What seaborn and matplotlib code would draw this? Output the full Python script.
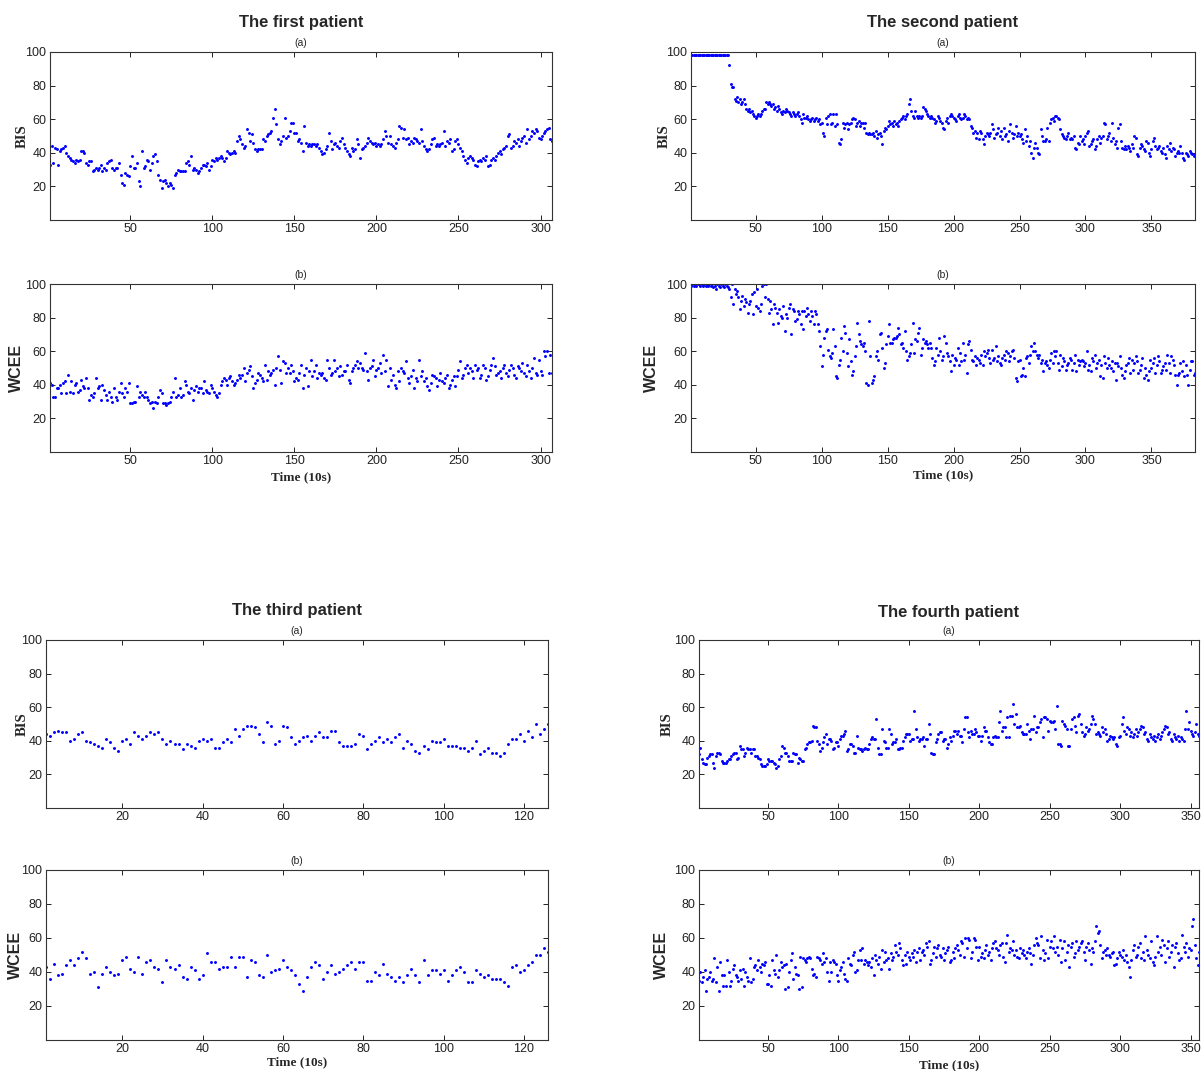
import numpy as np
import pandas as pd
import matplotlib
matplotlib.use("Agg")
import matplotlib.pyplot as plt
import seaborn as sns

# ---- data (one value per 10 s step) ----
p1_bis = [
    33, 44, 34, 43, 42, 33, 41, 42, 43, 44,
    40, 38, 37, 36, 35, 34, 36, 35, 36, 41,
    41, 40, 34, 33, 35, 35, 29, 30, 31, 30,
    31, 33, 29, 31, 30, 34, 35, 36, 31, 30,
    31, 31, 34, 27, 22, 21, 28, 27, 26, 32,
    38, 31, 31, 34, 23, 20, 41, 31, 32, 36,
    35, 30, 34, 38, 39, 35, 27, 24, 19, 23,
    24, 22, 20, 22, 21, 19, 27, 28, 30, 29,
    29, 29, 29, 34, 35, 33, 38, 30, 31, 30,
    28, 29, 31, 33, 33, 32, 34, 30, 32, 36,
    35, 37, 36, 37, 38, 37, 35, 37, 41, 40,
    39, 40, 41, 40, 47, 50, 48, 45, 43, 44,
    54, 52, 47, 51, 46, 42, 41, 42, 42, 42,
    48, 47, 50, 51, 52, 53, 61, 66, 57, 48,
    45, 47, 50, 61, 49, 50, 53, 58, 58, 52,
    52, 47, 48, 46, 41, 56, 46, 44, 45, 44,
    45, 45, 44, 45, 43, 41, 39, 40, 42, 44,
    52, 47, 42, 45, 46, 44, 43, 47, 49, 45,
    43, 41, 39, 38, 43, 41, 42, 48, 45, 37,
    42, 43, 44, 46, 49, 47, 46, 45, 46, 44,
    45, 44, 45, 48, 53, 50, 46, 50, 45, 44,
    43, 46, 48, 56, 55, 49, 54, 48, 49, 45,
    47, 46, 49, 48, 47, 46, 54, 47, 44, 42,
    41, 42, 45, 48, 49, 44, 45, 44, 45, 46,
    53, 44, 47, 46, 48, 41, 42, 47, 48, 45,
    43, 41, 38, 36, 34, 37, 38, 37, 36, 33,
    32, 35, 36, 35, 37, 36, 38, 32, 33, 36,
    37, 36, 38, 40, 41, 39, 42, 43, 44, 50,
    51, 43, 44, 47, 46, 48, 44, 47, 49, 50,
    46, 54, 48, 50, 53, 52, 54, 53, 49, 48,
    50, 52, 53, 54, 55, 48, 47,
]
p1_wcee = [
    41, 40, 33, 33, 38, 38, 40, 35, 41, 42,
    35, 46, 36, 42, 35, 40, 41, 36, 37, 43,
    39, 38, 44, 38, 31, 34, 33, 35, 44, 38,
    39, 31, 40, 37, 34, 31, 36, 33, 30, 38,
    33, 31, 36, 41, 35, 33, 38, 36, 41, 29,
    29, 30, 30, 39, 33, 36, 34, 33, 36, 33,
    31, 29, 30, 26, 30, 29, 33, 37, 35, 29,
    29, 28, 29, 30, 33, 36, 44, 33, 34, 38,
    33, 34, 42, 40, 36, 35, 38, 31, 37, 39,
    36, 38, 38, 35, 42, 37, 36, 35, 40, 38,
    36, 34, 33, 35, 40, 42, 44, 43, 40, 44,
    45, 42, 40, 41, 43, 46, 44, 46, 50, 42,
    47, 49, 51, 45, 38, 41, 43, 47, 46, 44,
    42, 52, 43, 48, 46, 47, 49, 40, 50, 57,
    49, 41, 54, 53, 47, 50, 47, 52, 48, 42,
    44, 43, 47, 52, 38, 46, 50, 39, 48, 55,
    45, 48, 52, 44, 47, 46, 47, 44, 43, 55,
    50, 46, 47, 55, 48, 50, 45, 51, 46, 48,
    48, 52, 43, 41, 48, 50, 52, 54, 50, 53,
    50, 49, 59, 48, 43, 50, 51, 55, 45, 49,
    50, 53, 47, 58, 48, 55, 39, 50, 43, 46,
    40, 38, 48, 42, 50, 48, 47, 54, 44, 41,
    45, 49, 38, 44, 42, 55, 45, 48, 42, 44,
    39, 37, 41, 46, 45, 44, 39, 43, 47, 42,
    41, 44, 46, 38, 40, 43, 45, 39, 45, 49,
    54, 44, 46, 50, 52, 47, 50, 48, 44, 52,
    49, 50, 44, 46, 52, 50, 43, 45, 49, 52,
    56, 51, 46, 47, 48, 44, 50, 52, 47, 45,
    49, 52, 50, 46, 44, 51, 50, 48, 53, 47,
    45, 52, 48, 44, 50, 56, 47, 46, 55, 48,
    46, 60, 57, 60, 47, 58, 47,
]
p2_bis = [
    98, 98, 98, 98, 98, 98, 98, 98, 98, 98,
    98, 98, 98, 98, 98, 98, 98, 98, 98, 98,
    98, 98, 98, 98, 98, 98, 98, 98, 98, 92,
    81, 79, 79, 72, 71, 73, 70, 72, 69, 70,
    72, 69, 66, 65, 66, 64, 65, 63, 62, 61,
    62, 63, 62, 63, 65, 66, 66, 70, 69, 70,
    69, 68, 69, 66, 67, 65, 68, 66, 64, 63,
    65, 64, 66, 65, 64, 63, 62, 64, 63, 62,
    63, 64, 62, 60, 58, 63, 61, 61, 62, 60,
    59, 60, 61, 59, 60, 61, 59, 60, 57, 58,
    52, 50, 61, 57, 62, 63, 57, 58, 63, 56,
    63, 57, 46, 45, 48, 58, 55, 57, 58, 54,
    57, 58, 60, 61, 60, 56, 58, 59, 56, 58,
    58, 55, 58, 52, 51, 52, 51, 51, 52, 50,
    53, 49, 51, 52, 50, 45, 53, 55, 54, 56,
    59, 57, 58, 56, 59, 57, 58, 56, 59, 60,
    61, 62, 60, 62, 63, 69, 72, 65, 62, 61,
    65, 62, 61, 62, 61, 62, 67, 66, 65, 63,
    62, 61, 62, 61, 60, 58, 59, 62, 61, 59,
    58, 55, 54, 59, 61, 58, 62, 63, 62, 61,
    60, 59, 62, 63, 61, 60, 61, 63, 62, 60,
    61, 60, 56, 55, 52, 53, 49, 52, 48, 53,
    52, 48, 45, 50, 52, 51, 50, 52, 57, 54,
    49, 51, 52, 55, 50, 53, 48, 55, 50, 51,
    47, 53, 57, 52, 49, 51, 56, 50, 52, 50,
    51, 48, 46, 54, 47, 50, 44, 47, 40, 37,
    43, 46, 43, 40, 39, 54, 50, 47, 47, 48,
    55, 47, 58, 60, 61, 59, 62, 62, 61, 60,
    54, 51, 50, 49, 48, 50, 52, 48, 49, 48,
    50, 43, 42, 46, 45, 50, 47, 48, 45, 50,
    52, 53, 44, 45, 47, 48, 42, 44, 48, 50,
    46, 49, 50, 58, 57, 48, 50, 52, 47, 58,
    49, 45, 47, 43, 55, 57, 47, 43, 42, 44,
    42, 44, 43, 41, 45, 43, 50, 49, 39, 38,
    43, 45, 44, 42, 41, 47, 46, 40, 38, 42,
    47, 49, 44, 42, 43, 44, 41, 40, 43, 39,
    37, 44, 42, 46, 41, 43, 42, 38, 40, 41,
    40, 44, 40, 37, 36, 40, 39, 38, 41, 40,
    39, 38, 39,
]
p2_wcee = [
    99, 100, 99, 100, 99, 100, 100, 99, 100, 99,
    100, 99, 100, 99, 100, 99, 100, 98, 99, 97,
    100, 99, 98, 100, 99, 98, 100, 99, 98, 97,
    92, 100, 88, 97, 94, 96, 92, 85, 90, 93,
    87, 91, 89, 83, 88, 90, 94, 82, 95, 87,
    97, 86, 84, 88, 99, 100, 92, 100, 91, 83,
    90, 85, 76, 88, 86, 83, 77, 85, 81, 80,
    87, 72, 82, 80, 86, 88, 70, 85, 84, 78,
    79, 84, 82, 76, 84, 73, 84, 81, 86, 82,
    78, 84, 81, 76, 84, 82, 76, 72, 63, 51,
    58, 68, 72, 73, 61, 57, 56, 59, 73, 63,
    45, 44, 52, 55, 68, 60, 75, 71, 59, 51,
    67, 54, 46, 48, 57, 63, 77, 70, 66, 64,
    63, 65, 60, 41, 40, 78, 57, 41, 43, 45,
    57, 60, 55, 70, 71, 62, 50, 53, 64, 69,
    76, 65, 65, 67, 68, 68, 69, 74, 70, 64,
    65, 62, 72, 60, 55, 57, 59, 64, 77, 59,
    67, 66, 71, 74, 58, 62, 67, 65, 66, 64,
    62, 65, 62, 56, 52, 54, 62, 58, 68, 60,
    55, 57, 69, 65, 59, 57, 54, 48, 58, 52,
    56, 55, 62, 52, 59, 54, 65, 55, 58, 47,
    64, 66, 61, 55, 54, 57, 52, 56, 55, 53,
    58, 52, 60, 57, 59, 61, 56, 53, 61, 55,
    56, 63, 54, 57, 53, 52, 56, 58, 55, 60,
    59, 54, 57, 60, 61, 56, 44, 42, 54, 55,
    45, 46, 50, 45, 56, 57, 53, 58, 63, 60,
    65, 60, 58, 56, 58, 53, 55, 48, 53, 54,
    52, 50, 55, 59, 53, 60, 57, 60, 53, 49,
    58, 51, 56, 54, 49, 52, 53, 56, 55, 49,
    53, 58, 48, 55, 52, 54, 55, 54, 51, 53,
    60, 49, 52, 48, 56, 54, 58, 50, 53, 55,
    45, 52, 44, 57, 53, 50, 56, 52, 50, 54,
    48, 53, 43, 53, 51, 57, 50, 46, 44, 48,
    52, 53, 56, 47, 55, 49, 53, 57, 54, 47,
    49, 52, 56, 44, 50, 46, 43, 48, 55, 50,
    53, 56, 47, 52, 57, 54, 47, 49, 51, 53,
    49, 58, 53, 47, 57, 55, 52, 46, 40, 46,
    47, 53, 48, 54, 45, 52, 46, 40, 49, 54,
    54, 46, 47,
]
p3_bis = [
    44, 43, 45, 46, 45, 45, 40, 41, 44, 45,
    40, 39, 38, 37, 36, 41, 39, 36, 34, 40,
    41, 38, 45, 43, 41, 43, 45, 44, 45, 41,
    38, 40, 38, 38, 35, 38, 37, 36, 40, 41,
    40, 41, 36, 36, 39, 41, 39, 47, 43, 47,
    49, 49, 48, 44, 39, 51, 49, 38, 40, 49,
    48, 42, 38, 40, 42, 43, 40, 43, 45, 42,
    42, 46, 46, 39, 37, 37, 37, 38, 44, 43,
    35, 38, 40, 42, 39, 41, 39, 42, 44, 36,
    40, 38, 34, 33, 37, 35, 40, 39, 39, 41,
    37, 37, 37, 36, 36, 34, 36, 40, 32, 34,
    36, 33, 33, 31, 33, 38, 41, 41, 44, 40,
    46, 42, 50, 44, 47, 50,
]
p3_wcee = [
    43, 36, 45, 38, 39, 44, 47, 44, 48, 52,
    48, 39, 40, 31, 39, 43, 40, 38, 39, 47,
    49, 42, 40, 49, 39, 46, 47, 43, 42, 34,
    47, 43, 42, 44, 37, 36, 43, 41, 36, 38,
    51, 46, 46, 42, 43, 43, 49, 43, 49, 49,
    37, 47, 46, 38, 37, 50, 40, 41, 42, 47,
    43, 41, 38, 33, 29, 37, 43, 46, 44, 36,
    40, 44, 39, 40, 42, 44, 46, 42, 46, 46,
    35, 35, 40, 38, 45, 39, 37, 35, 37, 34,
    38, 42, 38, 34, 47, 38, 41, 41, 39, 41,
    35, 38, 41, 43, 40, 34, 34, 41, 39, 37,
    38, 36, 36, 36, 34, 32, 43, 44, 40, 41,
    44, 46, 50, 50, 54, 52,
]
p4_bis = [
    32, 36, 29, 27, 26, 26, 30, 31, 32, 32,
    27, 24, 31, 33, 33, 32, 28, 27, 27, 27,
    28, 29, 29, 31, 32, 33, 33, 29, 30, 37,
    35, 35, 31, 33, 36, 35, 35, 33, 35, 35,
    31, 31, 30, 29, 26, 25, 25, 25, 26, 29,
    28, 28, 28, 27, 26, 24, 25, 29, 31, 37,
    36, 33, 33, 31, 28, 28, 28, 33, 32, 32,
    27, 30, 29, 28, 28, 35, 36, 38, 39, 39,
    40, 49, 48, 48, 40, 38, 34, 36, 39, 42,
    44, 38, 41, 41, 40, 35, 36, 39, 39, 37,
    41, 43, 43, 44, 46, 34, 35, 38, 38, 37,
    33, 33, 43, 36, 35, 35, 34, 35, 36, 35,
    35, 38, 41, 42, 41, 41, 53, 36, 32, 32,
    47, 40, 39, 36, 36, 47, 44, 38, 39, 39,
    41, 35, 35, 36, 36, 40, 42, 44, 44, 44,
    40, 41, 41, 58, 47, 42, 40, 41, 41, 42,
    37, 41, 41, 50, 44, 33, 32, 32, 39, 41,
    44, 45, 45, 40, 41, 41, 36, 38, 42, 40,
    43, 46, 46, 44, 46, 43, 43, 39, 47, 54,
    54, 45, 42, 46, 44, 44, 47, 45, 43, 43,
    40, 43, 48, 46, 46, 42, 39, 38, 38, 42,
    43, 42, 42, 51, 58, 46, 48, 48, 42, 54,
    42, 55, 55, 62, 50, 56, 48, 48, 49, 45,
    44, 44, 44, 50, 46, 41, 47, 47, 55, 45,
    48, 48, 51, 53, 42, 54, 54, 53, 46, 52,
    51, 51, 52, 47, 61, 38, 38, 37, 52, 50,
    49, 47, 37, 37, 47, 53, 54, 49, 45, 55,
    56, 50, 45, 43, 44, 48, 46, 47, 50, 55,
    53, 50, 44, 45, 44, 43, 48, 45, 47, 44,
    40, 41, 43, 42, 41, 42, 38, 37, 42, 43,
    50, 54, 46, 44, 48, 47, 43, 45, 42, 44,
    47, 43, 45, 47, 49, 48, 44, 45, 41, 40,
    44, 42, 41, 43, 40, 42, 44, 41, 43, 45,
    47, 49, 48, 44, 45, 41, 40, 44, 42, 41,
    43, 40, 42, 41, 40, 47, 58, 47, 51, 46,
    44, 43, 45, 50, 44, 43,
]
p4_wcee = [
    35, 40, 34, 37, 41, 29, 36, 37, 40, 35,
    36, 48, 34, 43, 29, 46, 38, 32, 38, 32,
    47, 40, 32, 35, 42, 44, 38, 37, 35, 41,
    36, 42, 32, 40, 37, 35, 48, 34, 36, 43,
    44, 41, 47, 43, 40, 45, 44, 46, 33, 33,
    38, 32, 47, 41, 39, 50, 37, 41, 46, 43,
    44, 30, 45, 31, 40, 47, 51, 36, 43, 39,
    38, 30, 49, 31, 48, 47, 46, 48, 49, 48,
    42, 38, 39, 37, 49, 48, 47, 45, 51, 46,
    48, 40, 35, 46, 40, 47, 46, 45, 38, 35,
    41, 43, 46, 39, 36, 35, 48, 45, 44, 50,
    52, 40, 41, 47, 53, 47, 54, 45, 47, 46,
    44, 46, 43, 48, 38, 50, 47, 45, 49, 42,
    53, 46, 52, 47, 48, 42, 51, 47, 49, 56,
    52, 50, 57, 54, 47, 44, 50, 45, 52, 49,
    47, 51, 49, 53, 46, 52, 54, 47, 52, 53,
    50, 57, 55, 58, 45, 47, 51, 55, 49, 54,
    56, 50, 49, 54, 47, 51, 53, 55, 46, 47,
    52, 48, 54, 56, 53, 50, 58, 57, 49, 60,
    54, 60, 59, 48, 52, 60, 59, 55, 47, 55,
    49, 51, 48, 53, 56, 50, 52, 47, 54, 57,
    58, 54, 53, 50, 56, 57, 49, 46, 57, 62,
    52, 54, 53, 58, 50, 53, 49, 48, 54, 51,
    53, 50, 48, 52, 54, 51, 45, 50, 56, 60,
    57, 56, 48, 61, 53, 47, 51, 59, 48, 55,
    58, 54, 61, 52, 55, 50, 59, 46, 54, 58,
    47, 52, 56, 43, 55, 57, 49, 51, 58, 53,
    55, 57, 58, 52, 47, 55, 57, 53, 45, 54,
    52, 58, 67, 63, 64, 56, 48, 52, 53, 50,
    54, 50, 49, 51, 52, 44, 45, 48, 52, 50,
    49, 53, 47, 50, 46, 43, 37, 47, 53, 56,
    49, 50, 55, 57, 48, 52, 47, 61, 53, 50,
    48, 58, 46, 44, 49, 61, 52, 55, 50, 59,
    56, 46, 54, 58, 49, 52, 56, 43, 55, 57,
    51, 47, 48, 62, 55, 52, 57, 49, 54, 53,
    67, 71, 56, 48, 44, 52,
]

titles = ["The first patient", "The second patient",
          "The third patient", "The fourth patient"]
xticks_sets = [[50, 100, 150, 200, 250, 300],
               [50, 100, 150, 200, 250, 300, 350],
               [20, 40, 60, 80, 100, 120],
               [50, 100, 150, 200, 250, 300, 350]]
yticks = [20, 40, 60, 80, 100]

W, H = 1202, 1071
sns.set_style("ticks")
plt.rcParams["font.family"] = ["Liberation Sans", "DejaVu Sans"]
plt.rcParams["xtick.direction"] = "in"
plt.rcParams["ytick.direction"] = "in"
plt.rcParams["axes.linewidth"] = 0.8

fig = plt.figure(figsize=(W / 100, H / 100), dpi=100)


def px_rect(left, right, top, bottom):
    return [left / W, 1 - bottom / H, (right - left) / W, (bottom - top) / H]


def draw(values, rect, xticks, ylabel, ylab_x, sub):
    ax = fig.add_axes(rect)
    df = pd.DataFrame({"t": np.arange(1, len(values) + 1), "v": values})
    sns.scatterplot(data=df, x="t", y="v", ax=ax, color="#0000ff",
                    s=4.5, linewidth=0, marker="o")
    ax.set_xlim(1, len(values))
    ax.set_ylim(0, 100)
    ax.set_xticks(xticks)
    ax.set_yticks(yticks)
    ax.tick_params(top=True, right=True, labelsize=9, length=3.5,
                   width=0.7, pad=2.5, colors="#222222")
    ax.set_xlabel("")
    if ylabel == "BIS":
        ax.set_ylabel("BIS", family="Liberation Serif", fontweight="bold",
                      fontsize=10.5)
    else:
        ax.set_ylabel("WCEE", fontweight="bold", fontsize=11.5)
    ax.yaxis.set_label_coords(ylab_x, 0.5)
    ax.set_title(sub, fontsize=7.5, pad=4)
    for s in ax.spines.values():
        s.set_visible(True)
        s.set_color("#333333")
    return ax


series = [(p1_bis, p1_wcee), (p2_bis, p2_wcee), (p3_bis, p3_wcee), (p4_bis, p4_wcee)]
cols = [(50, 552), (691, 1195), (46, 548), (699, 1199)]
rows = [((52, 220), (284, 452)), ((52, 220), (284, 452)),
        ((640, 808), (870, 1040)), ((640, 808), (870, 1040))]
ylab_pos = [(-0.042, -0.052), (-0.040, -0.064), (-0.034, -0.045), (-0.050, -0.060)]
title_y = [22, 22, 611, 613]
time_y = [477, 475, 1062, 1065]

for i in range(4):
    l, r = cols[i]
    (t1, b1), (t2, b2) = rows[i]
    draw(series[i][0], px_rect(l, r, t1, b1), xticks_sets[i], "BIS", ylab_pos[i][0], "(a)")
    draw(series[i][1], px_rect(l, r, t2, b2), xticks_sets[i], "WCEE", ylab_pos[i][1], "(b)")
    fig.text((l + r) / 2 / W, 1 - title_y[i] / H, titles[i], ha="center", va="center",
             fontsize=12, fontweight="bold")
    fig.text((l + r) / 2 / W, 1 - time_y[i] / H, "Time (10s)", ha="center", va="center",
             family="Liberation Serif", fontweight="bold", fontsize=9.5)

fig.savefig("out.png", dpi=100, facecolor="white")
